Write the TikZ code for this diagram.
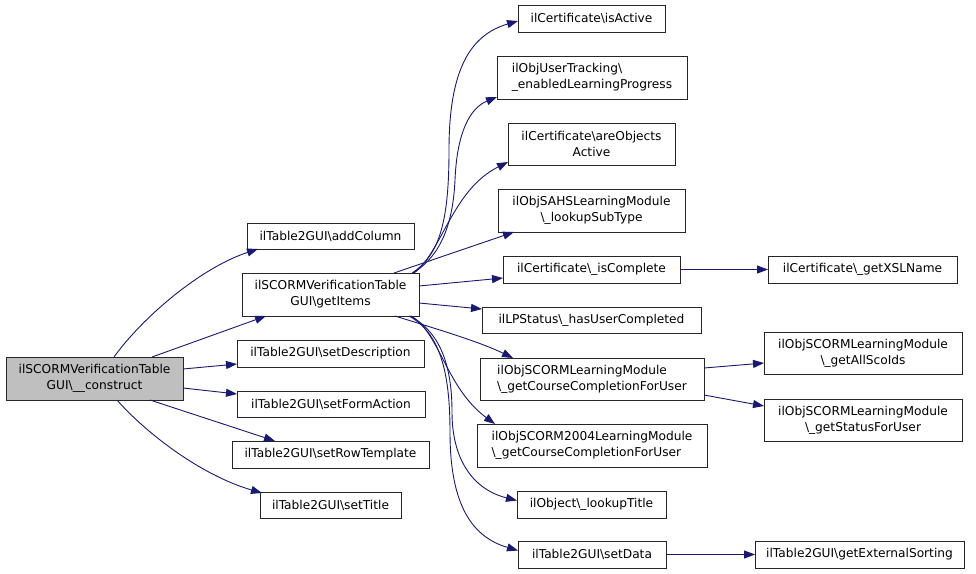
\documentclass[tikz,border=0pt]{standalone}
\usepackage{fontspec}
\setmainfont{DejaVu Sans}
\usetikzlibrary{arrows.meta,calc}
\definecolor{edgeblue}{RGB}{25,25,112}
\definecolor{rootgray}{RGB}{191,191,191}
\newcommand\bksl{\textbackslash{}}
\begin{document}
\begin{tikzpicture}[x=1pt,y=-1pt,
  box/.style={draw=black!85,line width=0.9pt,fill=white,inner sep=0pt,outer sep=0pt,
    font=\fontsize{12.2}{16}\selectfont,align=center},
  lbox/.style={box,align=left},
  rootbox/.style={box,fill=rootgray},
  edge/.style={draw=edgeblue,line width=0.9pt,-{Triangle[length=11pt,width=8pt]}}]
\useasboundingbox (0,0) rectangle (976,573);
% left
\node[rootbox,minimum width=177pt,minimum height=43pt] (construct) at (94.5,378.5) {ilSCORMVerificationTable\\GUI\bksl\_\_construct};
% column 2
\node[box,minimum width=167pt,minimum height=26pt] (addColumn) at (330.5,236) {ilTable2GUI\bksl addColumn};
\node[box,minimum width=177pt,minimum height=43pt] (getItems) at (330.5,294.5) {ilSCORMVerificationTable\\GUI\bksl getItems};
\node[box,minimum width=187pt,minimum height=27pt] (setDescription) at (330.5,353.5) {ilTable2GUI\bksl setDescription};
\node[box,minimum width=188pt,minimum height=26pt] (setFormAction) at (331,404) {ilTable2GUI\bksl setFormAction};
\node[box,minimum width=197pt,minimum height=27pt] (setRowTemplate) at (330.5,454.5) {ilTable2GUI\bksl setRowTemplate};
\node[box,minimum width=141pt,minimum height=26pt] (setTitle) at (330.5,505) {ilTable2GUI\bksl setTitle};
% column 3
\node[box,minimum width=147pt,minimum height=27pt] (isActive) at (591.5,18.5) {ilCertificate\bksl isActive};
\node[lbox,minimum width=190pt,minimum height=43pt] (enabled) at (592,77.5) {ilObjUserTracking\bksl\\\_enabledLearningProgress};
\node[box,minimum width=167pt,minimum height=42pt] (areObjects) at (591.5,144) {ilCertificate\bksl areObjects\\Active};
\node[box,minimum width=187pt,minimum height=43pt] (lookupSubType) at (591.5,210.5) {ilObjSAHSLearningModule\\\bksl\_lookupSubType};
\node[box,minimum width=177pt,minimum height=27pt] (isComplete) at (591.5,269.5) {ilCertificate\bksl\_isComplete};
\node[box,minimum width=219pt,minimum height=26pt] (hasUserCompleted) at (591.5,320) {ilLPStatus\bksl\_hasUserCompleted};
\node[lbox,minimum width=224pt,minimum height=42pt] (scormcc) at (592,379) {ilObjSCORMLearningModule\\\bksl\_getCourseCompletionForUser};
\node[lbox,minimum width=230pt,minimum height=43pt] (scorm2004) at (592,445.5) {ilObjSCORM2004LearningModule\\\bksl\_getCourseCompletionForUser};
\node[box,minimum width=149pt,minimum height=27pt] (lookupTitle) at (591.5,504.5) {ilObject\bksl\_lookupTitle};
\node[box,minimum width=148pt,minimum height=27pt] (setData) at (592,554.5) {ilTable2GUI\bksl setData};
% column 4
\node[box,minimum width=189pt,minimum height=27pt] (getXSLName) at (862.5,269.5) {ilCertificate\bksl\_getXSLName};
\node[box,minimum width=198pt,minimum height=42pt] (getAllScoIds) at (863,353) {ilObjSCORMLearningModule\\\bksl\_getAllScoIds};
\node[box,minimum width=198pt,minimum height=42pt] (getStatusForUser) at (863,420) {ilObjSCORMLearningModule\\\bksl\_getStatusForUser};
\node[box,minimum width=209pt,minimum height=27pt] (getExternalSorting) at (859.5,554.5) {ilTable2GUI\bksl getExternalSorting};

% edges from construct
\draw[edge] ($(construct.north west)+(108,0)$) .. controls (142,318) and (200,268) .. ($(addColumn.south west)+(11,0)$);
\draw[edge] ($(construct.north west)+(146,0)$) -- ($(getItems.south west)+(24,0)$);
\draw[edge] ($(construct.north east)+(0,12)$) -- ($(setDescription.south west)+(0,-3)$);
\draw[edge] ($(construct.south east)+(0,-12)$) -- ($(setFormAction.north west)+(0,3)$);
\draw[edge] ($(construct.south west)+(144,0)$) -- ($(setRowTemplate.north west)+(43,0)$);
\draw[edge] ($(construct.south west)+(111,0)$) .. controls (145,432) and (200,475) .. ($(setTitle.north west)+(2,1)$);

% edges from getItems
\draw[edge] ($(getItems.north east)+(-7,0)$) .. controls (440,255) and (449,220) .. (449,150)
   .. controls (449,70) and (470,35) .. ($(isActive.south west)+(0,-11)$);
\draw[edge] ($(getItems.north east)+(-6,0)$) .. controls (442,255) and (453,222) .. (455,180)
   .. controls (457,132) and (470,108) .. ($(enabled.south west)+(0,-2)$);
\draw[edge] ($(getItems.north east)+(-5,0)$) .. controls (442,252) and (452,190) .. ($(areObjects.south west)+(0,-3)$);
\draw[edge] ($(getItems.north east)+(-25,0)$) -- ($(lookupSubType.south west)+(16,0)$);
\draw[edge] ($(getItems.north east)+(0,13)$) -- ($(isComplete.south west)+(0,-5)$);
\draw[edge] ($(getItems.south east)+(0,-13)$) -- ($(hasUserCompleted.north west)+(0,2)$);
\draw[edge] ($(getItems.south west)+(153,0)$) .. controls (440,330) and (480,342) .. ($(scormcc.north west)+(33,0)$);
\draw[edge] ($(getItems.south east)+(-8,0)$) .. controls (440,333) and (446,388) .. ($(scorm2004.north west)+(18,0)$);
\draw[edge] ($(getItems.south east)+(-9,0)$) .. controls (440,332) and (452,365) .. (452,412)
   .. controls (452,462) and (475,490) .. ($(lookupTitle.west)+(0,-4)$);
\draw[edge] ($(getItems.south east)+(-10,0)$) .. controls (440,333) and (450,372) .. (450,432)
   .. controls (450,505) and (472,537) .. ($(setData.west)+(0,-4)$);

% other edges
\draw[edge] (isComplete.east) -- (getXSLName.west);
\draw[edge] ($(scormcc.north east)+(0,10)$) -- ($(getAllScoIds.south west)+(0,-11)$);
\draw[edge] ($(scormcc.south east)+(0,-5)$) -- ($(getStatusForUser.north west)+(0,7)$);
\draw[edge] (setData.east) -- (getExternalSorting.west);
\end{tikzpicture}
\end{document}
